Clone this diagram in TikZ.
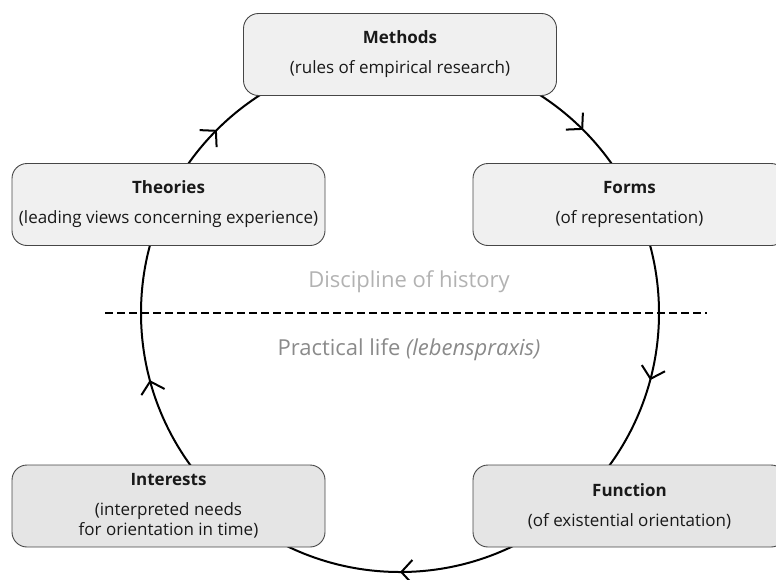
\documentclass[tikz,border=0pt]{standalone}
\usepackage{fontspec}
\setmainfont{Open Sans}
\usetikzlibrary{arrows.meta, decorations.markings}
\usepackage{xcolor}
\definecolor{boxtop}{RGB}{240,240,240}
\definecolor{boxlow}{RGB}{229,229,229}
\definecolor{boxline}{RGB}{70,70,70}
\definecolor{lightlabel}{RGB}{178,178,178}
\definecolor{darklabel}{RGB}{138,138,138}

\begin{document}
\begin{tikzpicture}[x=1pt, y=-1pt,
  >={Straight Barb[length=11pt, width=24pt]},
  box/.style={draw=boxline, fill=boxtop, line width=0.9pt, rounded corners=15pt, minimum width=313pt, minimum height=82pt, align=center, text=black!90, font=\fontsize{17}{19.5}\selectfont},
  cyclepath/.style={line width=2pt, postaction={decorate}, decoration={markings,
    mark=at position 0.0417 with {\arrow{>}},
    mark=at position 0.25 with {\arrow{>}},
    mark=at position 0.4583 with {\arrow{>}},
    mark=at position 0.625 with {\arrow{>}},
    mark=at position 0.875 with {\arrow{>}}}},
  divider/.style={line width=2pt, dash pattern=on 8pt off 4pt},
  zonelabel/.style={font=\fontsize{22}{26}\selectfont}]
\useasboundingbox (0,0) rectangle (776,579);

\coordinate (hub) at (400,313);
\draw[cyclepath] (hub) ++(259,0) arc[start angle=0, end angle=360, radius=259];

\coordinate (divL) at (105,313);
\coordinate (divR) at (707,313);
\draw[divider] (divL) -- (divR);

\node[zonelabel, text=lightlabel] (discipline) at (409,282) {Discipline of history};
\node[zonelabel, text=darklabel] (praxis) at (409,350) {Practical life \textit{(lebenspraxis)}};

\node[box] (methods) at (400,54.5) {\textbf{Methods}\\[10.5pt](rules of empirical research)};
\node[box] (theories) at (168.5,204.5) {\textbf{Theories}\\[10.5pt](leading views concerning experience)};
\node[box] (forms) at (629.5,204.5) {\textbf{Forms}\\[10.5pt](of representation)};
\node[box, fill=boxlow] (interests) at (168.5,506) {\textbf{Interests}\\[10.5pt](interpreted needs\\for orientation in time)};
\node[box, fill=boxlow] (function) at (629.5,506) {\textbf{Function}\\[10.5pt](of existential orientation)};
\end{tikzpicture}
\end{document}
